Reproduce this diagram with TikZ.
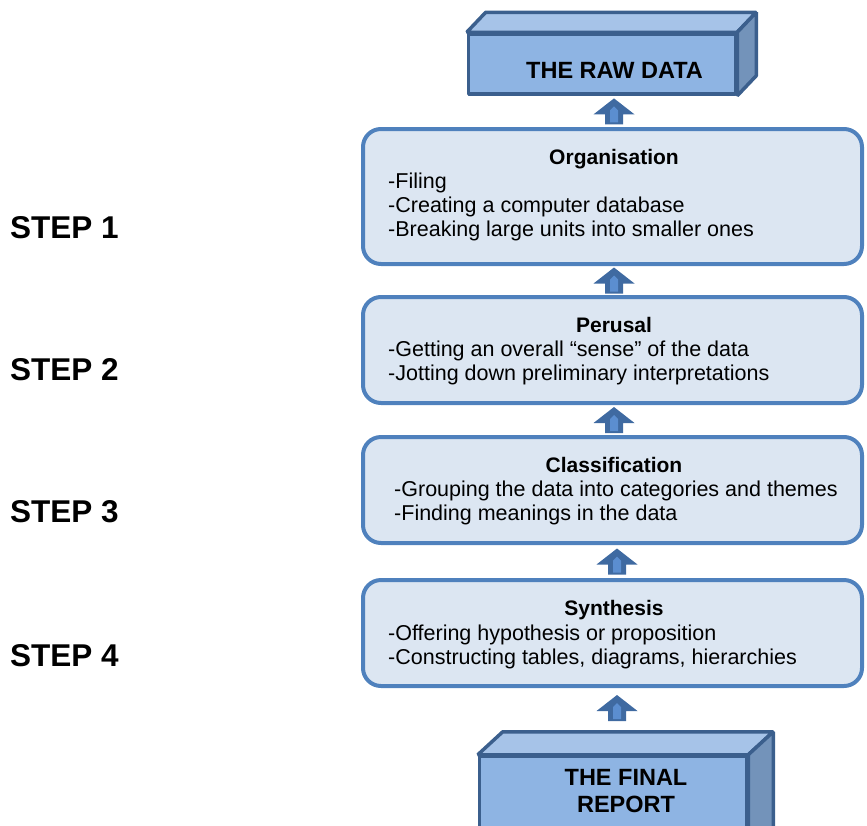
\documentclass[tikz,border=0pt]{standalone}
\usepackage{fontspec}
\setmainfont{Liberation Sans}
\usetikzlibrary{calc}

\definecolor{boxfill}{HTML}{DCE6F2}
\definecolor{boxline}{HTML}{4F81BD}
\definecolor{cubefront}{HTML}{8EB4E3}
\definecolor{cubetop}{HTML}{A6C3E8}
\definecolor{cubeside}{HTML}{7393BA}
\definecolor{cubeline}{HTML}{3B5F8D}
\definecolor{arrowdark}{HTML}{3F6AA1}
\definecolor{arrowlight}{HTML}{5B8ED0}

\begin{document}
\begin{tikzpicture}[x=1pt,y=-1pt,
  stepbox/.style={draw=boxline, fill=boxfill, line width=4pt, rounded corners=18pt,
    minimum width=499pt, inner sep=0pt},
  cubeface/.style={draw=cubeline, line width=3.5pt, line join=bevel},
  heading/.style={anchor=base, inner sep=0pt, font=\fontsize{21}{24}\selectfont\bfseries},
  bodyline/.style={anchor=base west, inner sep=0pt, font=\fontsize{21.5}{24}\selectfont},
  steplabel/.style={anchor=base west, inner sep=0pt, font=\fontsize{31.5}{34}\selectfont\bfseries},
  cubetext/.style={anchor=base, inner sep=0pt, font=\fontsize{23.5}{27}\selectfont\bfseries},
  uparr/.pic={
    \fill[arrowdark] (0,-13) -- (20.5,3) -- (9,3) -- (9,13) -- (-9,13) -- (-9,3) -- (-20.5,3) -- cycle;
    \fill[arrowlight] (0,-5) -- (4,-1) -- (4,11) -- (-4,11) -- (-4,-1) -- cycle;
  }]
\useasboundingbox (0,0) rectangle (867,825);
\clip (0,0) rectangle (867,825);

% top block: the raw data
\node[cubeface, fill=cubefront, minimum width=267pt, minimum height=60pt, inner sep=0pt] (raw) at (602,64) {};
\draw[cubeface, fill=cubetop] (raw.north west) -- ($(raw.north west)+(19,-20)$) -- ($(raw.north east)+(19,-20)$) -- (raw.north east) -- cycle;
\draw[cubeface, fill=cubeside] (raw.north east) -- ($(raw.north east)+(19,-20)$) -- ($(raw.south east)+(19,-20)$) -- (raw.south east) -- cycle;
\node[cubetext] (rawtext) at (614.5,78) {THE RAW DATA};

% the four steps
\node[stepbox, minimum height=135pt] (b1) at (612.5,196.5) {};
\node[stepbox, minimum height=106pt] (b2) at (612.5,350) {};
\node[stepbox, minimum height=106pt] (b3) at (612.5,490) {};
\node[stepbox, minimum height=106pt] (b4) at (612.5,633) {};

\node[heading] (h1) at ($(b1.north)+(1.5,37)$) {Organisation};
\node[bodyline] (l1a) at ($(b1.north west)+(27,61)$) {-Filing};
\node[bodyline] (l1b) at ($(b1.north west)+(27,85)$) {-Creating a computer database};
\node[bodyline] (l1c) at ($(b1.north west)+(27,109)$) {-Breaking large units into smaller ones};

\node[heading] (h2) at ($(b2.north)+(1.5,37)$) {Perusal};
\node[bodyline] (l2a) at ($(b2.north west)+(27,61)$) {-Getting an overall “sense” of the data};
\node[bodyline] (l2b) at ($(b2.north west)+(27,85)$) {-Jotting down preliminary interpretations};

\node[heading] (h3) at ($(b3.north)+(1.5,37)$) {Classification};
\node[bodyline] (l3a) at ($(b3.north west)+(33,61)$) {-Grouping the data into categories and themes};
\node[bodyline] (l3b) at ($(b3.north west)+(33,85)$) {-Finding meanings in the data};

\node[heading] (h4) at ($(b4.north)+(1.5,37)$) {Synthesis};
\node[bodyline] (l4a) at ($(b4.north west)+(27,62)$) {-Offering hypothesis or proposition};
\node[bodyline] (l4b) at ($(b4.north west)+(27,86)$) {-Constructing tables, diagrams, hierarchies};

% step labels
\node[steplabel] (s1) at (10,238) {STEP 1};
\node[steplabel] (s2) at (10,380) {STEP 2};
\node[steplabel] (s3) at (10,522) {STEP 3};
\node[steplabel] (s4) at (10,666) {STEP 4};

% bottom block: the final report
\node[cubeface, fill=cubefront, minimum width=267pt, minimum height=100pt, inner sep=0pt] (rep) at (613,806.5) {};
\draw[cubeface, fill=cubetop] (rep.north west) -- ($(rep.north west)+(25,-23)$) -- ($(rep.north east)+(25,-23)$) -- (rep.north east) -- cycle;
\draw[cubeface, fill=cubeside] (rep.north east) -- ($(rep.north east)+(25,-23)$) -- ($(rep.south east)+(25,-23)$) -- (rep.south east) -- cycle;
\node[cubetext] (reptext1) at (626,785) {THE FINAL};
\node[cubetext] (reptext2) at (626,812) {REPORT};

% upward block arrows between the stages
\pic at ($(b1.north)!0.5!(b1.north |- raw.south)+(1.5,0)$) {uparr};
\pic at ($(b2.north)!0.5!(b1.south)+(1.5,0)$) {uparr};
\pic at ($(b3.north)!0.5!(b2.south)+(1.5,0)$) {uparr};
\pic at ($(b4.north)!0.5!(b3.south)+(4.5,0)$) {uparr};
\pic at ($(b4.south)+(4.5,20)$) {uparr};
\end{tikzpicture}
\end{document}
